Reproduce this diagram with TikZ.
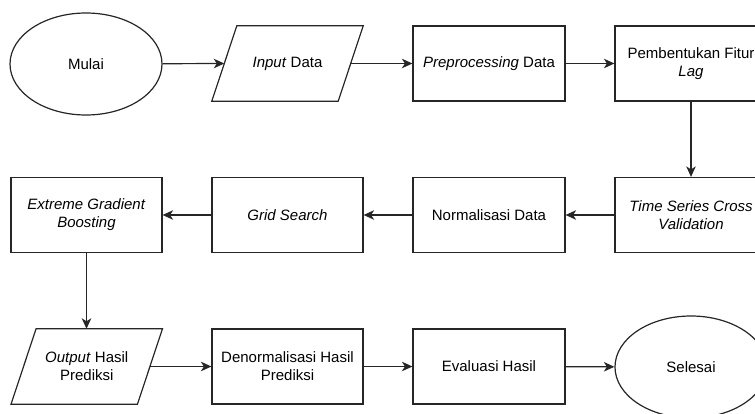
\documentclass[tikz,border=0pt]{standalone}
\usepackage{fontspec}
\setmainfont{Liberation Sans}
\usetikzlibrary{shapes.geometric,arrows.meta}

\begin{document}
\begin{tikzpicture}[x=1pt,y=-1pt,
  every node/.style={font=\fontsize{15}{18}\selectfont, align=center, inner sep=0pt},
  stroke/.style={line width=1.2pt, draw=black!85},
  box/.style={rectangle, stroke, minimum width=152pt, minimum height=75pt},
  term/.style={ellipse, stroke, minimum width=152pt, minimum height=102pt},
  iobox/.style={rectangle, draw=none, minimum width=126pt, minimum height=75pt},
  flow/.style={stroke, -{Stealth[length=10.5pt,width=9.5pt,inset=3pt]}}
]
\clip (0,0) rectangle (755,414);
\fill[white] (0,0) rectangle (755,414);

% first row
\node[term] (mulai) at (86,64) {Mulai};
\node[iobox] (input) at (287.5,63.5) {\textit{Input} Data};
\node[box] (prep) at (489,63.5) {\textit{Preprocessing} Data};
\node[box] (lag) at (691,63.5) {Pembentukan Fitur\\\textit{Lag}};

% second row
\node[box] (tscv) at (691,215) {\textit{Time Series Cross}\\\textit{Validation}};
\node[box] (norm) at (489,215) {Normalisasi Data};
\node[box, minimum width=151pt] (grid) at (287.5,215) {\textit{Grid Search}};
\node[box, minimum width=151pt] (xgb) at (86.5,215) {\textit{Extreme Gradient}\\\textit{Boosting}};

% third row
\node[iobox] (output) at (86.75,366.5) {\textit{Output} Hasil\\Prediksi};
\node[box, minimum width=151pt] (denorm) at (287.5,366.5) {Denormalisasi Hasil\\Prediksi};
\node[box] (eval) at (489,366.5) {Evaluasi Hasil};
\node[term] (selesai) at (691,367) {Selesai};

% parallelogram outlines of the input/output steps
\foreach \n in {input,output}
  \draw[stroke] ([xshift=12.5]\n.north west) -- ([xshift=12.5]\n.north east)
    -- ([xshift=-12.5]\n.south east) -- ([xshift=-12.5]\n.south west) -- cycle;

% connectors
\draw[flow] (mulai) -- (input.west);
\draw[flow] (input.east) -- (prep);
\draw[flow] (prep) -- (lag);
\draw[flow] (lag) -- (tscv);
\draw[flow] (tscv) -- (norm);
\draw[flow] (norm) -- (grid);
\draw[flow] (grid) -- (xgb);
\draw[flow] (xgb.south) -- (xgb.south |- output.north);
\draw[flow] (output.east) -- (denorm);
\draw[flow] (denorm) -- (eval);
\draw[flow] (eval) -- (selesai);
\end{tikzpicture}
\end{document}
